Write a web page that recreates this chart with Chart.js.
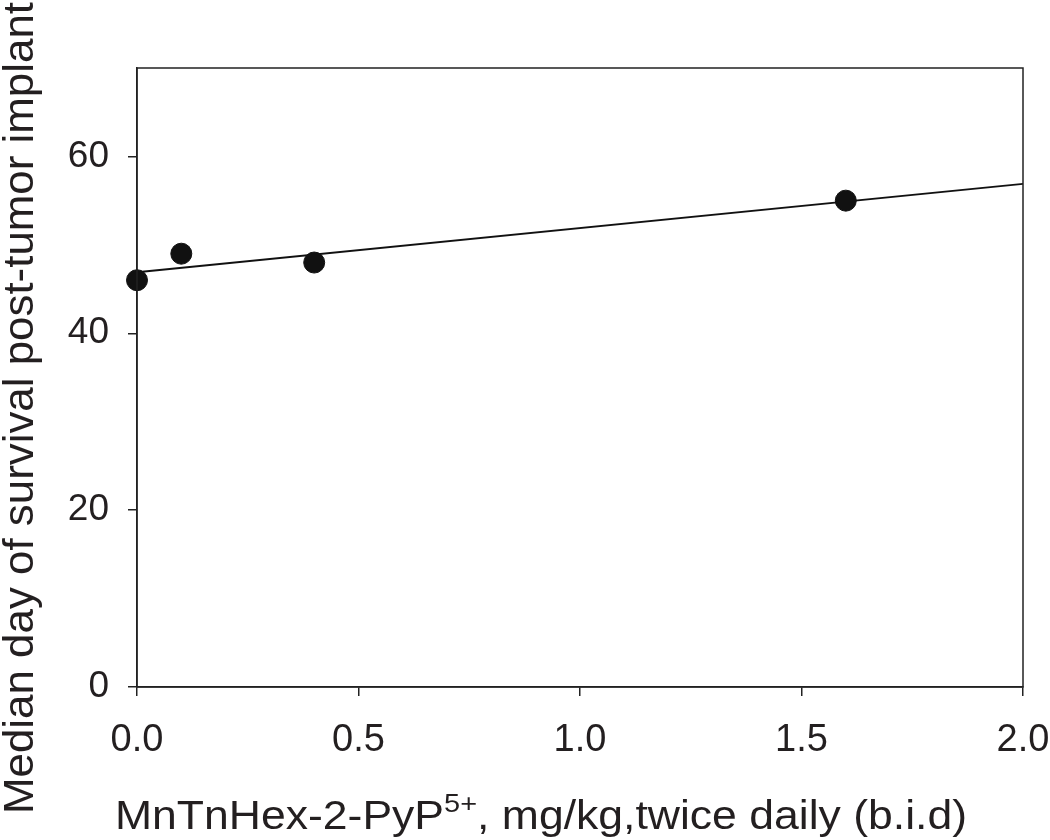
<!DOCTYPE html>
<html lang="en">
<head>
    <meta charset="UTF-8">
    <title>Median survival vs dose</title>
    <script src="https://cdn.jsdelivr.net/npm/chart.js@4.4.0/dist/chart.umd.min.js"></script>
    <style>
        body {
            margin: 0;
            background: #fff;
            overflow: hidden;
        }
    </style>
</head>
<body>
    <canvas id="chart1" width="1050" height="840"></canvas>

    <script>
        // dose (mg/kg b.i.d) and median survival day
        const doses = [0.0, 0.1, 0.4, 1.6];
        const survivalDays = [46, 49, 48, 55];
        // fitted line, read at both ends of the x axis
        const fitX = [0.0, 2.0];
        const fitY = [46.9, 56.9];
        const xTicks = [0.0, 0.5, 1.0, 1.5, 2.0];
        const yTicks = [0, 20, 40, 60];

        const fontFam = "'Liberation Sans', Arial, sans-serif";

        // draws the frame and the two axis titles
        const framePlugin = {
            id: 'frame',
            afterDraw(chart) {
                const c = chart.ctx;
                const a = chart.chartArea;
                c.save();
                c.strokeStyle = '#222';
                c.lineWidth = 1.5;
                c.strokeRect(a.left, a.top, a.right - a.left, a.bottom - a.top);

                c.fillStyle = '#231f20';
                // y title
                c.save();
                c.translate(33, 408);
                c.rotate(-Math.PI / 2);
                c.font = '42px ' + fontFam;
                c.textAlign = 'center';
                c.textBaseline = 'alphabetic';
                const yt = 'Median day of survival post-tumor implant';
                const w = c.measureText(yt).width;
                c.scale(812 / w, 1);
                c.fillText(yt, 0, 0);
                c.restore();

                // x title with superscript
                const p1 = 'MnTnHex-2-PyP', sup = '5+', p2 = ', mg/kg,twice daily (b.i.d)';
                c.font = '40px ' + fontFam;
                const w1 = c.measureText(p1).width, w3 = c.measureText(p2).width;
                c.font = '26px ' + fontFam;
                const w2 = c.measureText(sup).width;
                const total = w1 + w2 + w3;
                const sx = 852 / total;
                c.save();
                c.translate(115, 829);
                c.scale(sx, 1);
                c.textAlign = 'left';
                c.textBaseline = 'alphabetic';
                c.font = '40px ' + fontFam;
                c.fillText(p1, 0, 0);
                c.font = '26px ' + fontFam;
                c.fillText(sup, w1, -17);
                c.font = '40px ' + fontFam;
                c.fillText(p2, w1 + w2, 0);
                c.restore();
                c.restore();
            }
        };

        const ctx1 = document.getElementById('chart1').getContext('2d');
        const chart = new Chart(ctx1, {
            data: {
                datasets: [{
                    type: 'scatter',
                    data: doses.map((d, i) => ({ x: d, y: survivalDays[i] })),
                    backgroundColor: '#111',
                    borderColor: '#111',
                    pointRadius: 10.5,
                    clip: false
                }, {
                    type: 'line',
                    data: fitX.map((d, i) => ({ x: d, y: fitY[i] })),
                    borderColor: '#111',
                    borderWidth: 1.8,
                    pointRadius: 0,
                    fill: false,
                    clip: false
                }]
            },
            plugins: [framePlugin],
            options: {
                responsive: false,
                animation: false,
                devicePixelRatio: 1,
                layout: { padding: { top: 68, right: 27, left: 0, bottom: 0 } },
                plugins: {
                    legend: { display: false },
                    tooltip: { enabled: false }
                },
                scales: {
                    x: {
                        type: 'linear',
                        min: 0,
                        max: 2,
                        afterBuildTicks: s => { s.ticks = xTicks.map(v => ({ value: v })); },
                        afterFit: s => {
                            s.height = 153;
                            s.paddingLeft = 0;
                            s.paddingRight = 0;
                        },
                        grid: {
                            drawOnChartArea: false,
                            tickLength: 9,
                            tickColor: '#222',
                            lineWidth: 1.5
                        },
                        border: { color: '#222', width: 1.5 },
                        ticks: {
                            color: '#231f20',
                            padding: 22,
                            maxRotation: 0,
                            font: { family: fontFam, size: 38 },
                            callback: v => v.toFixed(1)
                        }
                    },
                    y: {
                        type: 'linear',
                        min: 0,
                        max: 70,
                        afterBuildTicks: s => { s.ticks = yTicks.map(v => ({ value: v })); },
                        afterFit: s => {
                            s.width = 137;
                            s.paddingTop = 0;
                            s.paddingBottom = 0;
                        },
                        grid: {
                            drawOnChartArea: false,
                            tickLength: 9,
                            tickColor: '#222',
                            lineWidth: 1.5
                        },
                        border: { color: '#222', width: 1.5 },
                        ticks: {
                            color: '#231f20',
                            padding: 19,
                            font: { family: fontFam, size: 37 }
                        }
                    }
                }
            }
        });
    </script>
</body>
</html>
